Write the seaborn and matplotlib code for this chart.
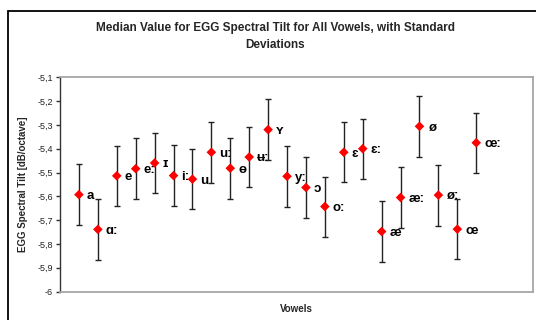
import numpy as np
import pandas as pd
import matplotlib
matplotlib.use("Agg")
import matplotlib.pyplot as plt
from matplotlib.patches import Rectangle
from matplotlib.ticker import FixedLocator, FuncFormatter
import seaborn as sns

# Vowel categories and their EGG spectral tilt statistics (dB/octave)
vowels = ["a", "ɑ:", "e", "e:", "ɪ", "i:", "u", "u:", "ɵ", "ʉ:", "ʏ",
          "y:", "ɔ", "o:", "ɛ", "ɛ:", "æ", "æ:", "ø", "ø:", "œ", "œ:"]
median_tilt = [-5.593, -5.739, -5.514, -5.484, -5.460, -5.513, -5.528,
               -5.415, -5.482, -5.435, -5.320, -5.516, -5.563, -5.643,
               -5.415, -5.400, -5.748, -5.605, -5.306, -5.595, -5.738,
               -5.375]
std_dev = [0.127, 0.127, 0.126, 0.127, 0.127, 0.128, 0.126, 0.128,
           0.128, 0.127, 0.127, 0.127, 0.128, 0.126, 0.127, 0.126,
           0.127, 0.127, 0.128, 0.128, 0.126, 0.127]
y_ticks = [-6.0, -5.9, -5.8, -5.7, -5.6, -5.5, -5.4, -5.3, -5.2, -5.1]

df = pd.DataFrame({
    "index": np.arange(1, len(vowels) + 1),
    "vowel": vowels,
    "median": median_tilt,
    "sd": std_dev,
})

sns.set_theme(style="white")
plt.rcParams["font.family"] = ["Liberation Sans", "DejaVu Sans"]

fig = plt.figure(figsize=(5.36, 3.2), dpi=100)
fig.patch.set_facecolor("white")

# Outer chart frame (only left and top edges fall inside the canvas)
fig.patches.append(Rectangle((8 / 536, -0.2), 1.2, 0.2 + (1 - 11 / 320),
                             transform=fig.transFigure, fill=False,
                             edgecolor="black", linewidth=1.3, zorder=0))

ax = fig.add_axes([60 / 536, 1 - 291.5 / 320, 473 / 536, (291.5 - 77.3) / 320])
ax.set_facecolor("white")

ax.errorbar(df["index"], df["median"], yerr=df["sd"], fmt="none",
            ecolor="#222222", elinewidth=1.0, capsize=2.3, capthick=1.0,
            zorder=2)
sns.scatterplot(data=df, x="index", y="median", marker="D", s=24,
                color="#ff0000", edgecolor="none", linewidth=0, ax=ax,
                zorder=3, legend=False)

for _, row in df.iterrows():
    ax.annotate(row["vowel"], (row["index"], row["median"]),
                xytext=(5.8, -1.0), textcoords="offset points",
                ha="left", va="center", fontsize=9.5, fontweight="bold",
                color="black")

ax.set_xlim(0, 25)
ax.set_ylim(-6.0, -5.1)
ax.set_xticks([])
ax.yaxis.set_major_locator(FixedLocator(y_ticks))
ax.yaxis.set_major_formatter(
    FuncFormatter(lambda v, _: f"{v:g}".replace(".", ",")))
ax.tick_params(axis="y", direction="out", length=3, width=1,
               color="#333333", labelsize=6.5, pad=2, left=True,
               labelcolor="#222222")

for side in ["top", "right", "bottom"]:
    ax.spines[side].set_color("#a6a6a6")
    ax.spines[side].set_linewidth(1.3)
ax.spines["left"].set_color("#333333")
ax.spines["left"].set_linewidth(1.0)

ax.set_xlabel("Vowels", fontsize=7, fontweight="bold", labelpad=9)
ax.set_ylabel("EGG Spectral Tilt [dB/octave]", fontsize=7,
              fontweight="bold", labelpad=7)

fig.text(275 / 536, 1 - 36.5 / 320,
         "Median Value for EGG Spectral Tilt for All Vowels, with Standard\nDeviations",
         ha="center", va="center", fontsize=8.5, fontweight="bold",
         linespacing=1.45)

fig.savefig("out.png", dpi=100, facecolor="white")
